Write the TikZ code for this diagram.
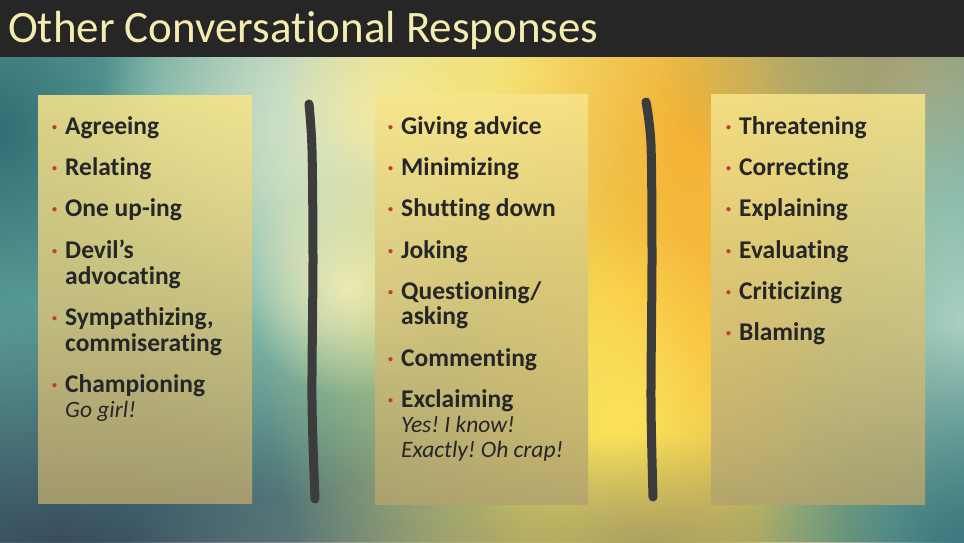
\documentclass[tikz,border=0pt]{standalone}
\usepackage{fontspec}
\setmainfont{Carlito}[Ligatures=NoCommon]
\usepackage{tikz}
\usetikzlibrary{fadings}
\usepackage{color,xcolor}
\definecolor{barcol}{HTML}{262626}
\definecolor{titlecol}{HTML}{F5ECB0}
\definecolor{inkcol}{HTML}{262626}
\definecolor{bulletred}{HTML}{C8383A}
\definecolor{markercol}{HTML}{3C3C3C}
\definecolor{tealcol}{HTML}{5C9F98}
\definecolor{deepteal}{HTML}{326E74}
\definecolor{slate}{HTML}{36485A}
\definecolor{mint}{HTML}{9CCAB0}
\definecolor{cream}{HTML}{F2F2D8}
\definecolor{palecream}{HTML}{E8ECCE}
\definecolor{sunyellow}{HTML}{FDE35A}
\definecolor{lightyellow}{HTML}{F8E578}
\definecolor{orangeglow}{HTML}{F8B232}
\definecolor{amber}{HTML}{F9B838}
\definecolor{greyolive}{HTML}{6E7E7A}
\definecolor{olive}{HTML}{ACA060}
\definecolor{khaki}{HTML}{A8A070}
\definecolor{seafoam}{HTML}{A8CFC0}
\definecolor{darksea}{HTML}{3A767C}
\definecolor{notetop}{HTML}{F8E58A}
\definecolor{notebottom}{HTML}{B2A36E}
\tikzfading[name=fuzzy, inner color=transparent!0, outer color=transparent!100]
\newcommand{\bul}{\textcolor{bulletred}{\raisebox{4pt}{\fontsize{10}{10}\selectfont\textbullet}}}
\newcommand{\quip}{\mdseries\itshape\fontsize{23.5}{25}\selectfont}
\frenchspacing

\begin{document}
\begin{tikzpicture}[x=1pt,y=-1pt,
  blob/.style={fill=#1, path fading=fuzzy},
  notebox/.style={top color=notetop, bottom color=notebottom, opacity=0.86},
  divider/.style={line width=9pt, line cap=round, line join=round, markercol},
  column/.style={anchor=base west, inner sep=0pt, text=inkcol,
    font=\fontsize{25.5}{25}\selectfont\bfseries}]
\useasboundingbox (0,0) rectangle (964,542);
% blurred background
\fill[tealcol] (0,0) rectangle (964,542);
\path[blob=deepteal] (0,130) ellipse (160 and 200);
\path[blob=slate] (60,560) ellipse (520 and 260);
\path[blob=greyolive] (470,580) ellipse (360 and 160);
\path[blob=mint] (290,180) ellipse (200 and 320);
\path[blob=cream] (400,110) ellipse (300 and 240);
\path[blob=palecream] (350,285) ellipse (110 and 110);
\path[blob=sunyellow] (620,300) ellipse (360 and 560);
\path[blob=lightyellow] (530,75) ellipse (260 and 120);
\path[blob=orangeglow] (690,140) ellipse (200 and 300);
\path[blob=amber] (700,340) ellipse (120 and 260);
\path[blob=sunyellow] (620,420) ellipse (160 and 200);
\path[blob=olive] (650,545) ellipse (260 and 110);
\path[blob=khaki] (900,75) ellipse (240 and 140);
\path[blob=seafoam] (960,320) ellipse (150 and 300);
\path[blob=darksea] (960,550) ellipse (200 and 220);
% title bar
\fill[barcol] (0,0) rectangle (964,57);
\node[anchor=base west, inner sep=0pt, text=titlecol, font=\fontsize{45}{45}\selectfont]
  (title) at (8,42) {Other Conversational Responses};
% note boxes
\shade[notebox] (38,95) rectangle (252,503);
\shade[notebox] (375,94) rectangle (588,504);
\shade[notebox] (711,94) rectangle (925,504);
% marker strokes
\draw[divider] plot[smooth] coordinates {(309,104) (312,150) (313,260) (312,400) (315,499)};
\draw[divider] plot[smooth] coordinates {(646,102) (651,145) (652,260) (651,400) (653,497)};
% lists
\node[column] (leftlist) at (52,134) {\begin{tabular}[t]{@{}p{13pt}@{}l@{}}
  \bul & Agreeing\\[16pt]
  \bul & Relating\\[16pt]
  \bul & One up-ing\\[16pt]
  \bul & Devil’s\\
       & advocating\\[16pt]
  \bul & Sympathizing,\\
       & commiserating\\[16pt]
  \bul & Championing\\
       & \quip Go girl!
\end{tabular}};
\node[column] (midlist) at (388,134) {\begin{tabular}[t]{@{}p{13pt}@{}l@{}}
  \bul & Giving advice\\[16pt]
  \bul & Minimizing\\[16pt]
  \bul & Shutting down\\[16pt]
  \bul & Joking\\[16pt]
  \bul & Questioning/\\
       & asking\\[16pt]
  \bul & Commenting\\[16pt]
  \bul & Exclaiming\\
       & \quip Yes! I know!\\
       & \quip Exactly! Oh crap!
\end{tabular}};
\node[column] (rightlist) at (726,134) {\begin{tabular}[t]{@{}p{13pt}@{}l@{}}
  \bul & Threatening\\[16pt]
  \bul & Correcting\\[16pt]
  \bul & Explaining\\[16pt]
  \bul & Evaluating\\[16pt]
  \bul & Criticizing\\[16pt]
  \bul & Blaming
\end{tabular}};
\end{tikzpicture}
\end{document}
